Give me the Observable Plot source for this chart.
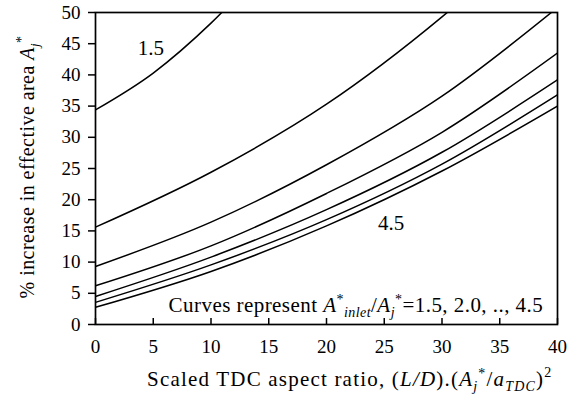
<!DOCTYPE html>
<html>
<head>
<meta charset="utf-8">
<script src="https://cdn.jsdelivr.net/npm/d3@7"></script>
<script src="https://cdn.jsdelivr.net/npm/@observablehq/plot@0.6"></script>
<style>
  html, body { margin: 0; padding: 0; background: #fff; }
  #chart svg { display: block; }
</style>
</head>
<body>
<div id="chart"></div>
<script>
// Inlet area ratios A*_inlet / A_j*
const ratios = ["1.5", "2.0", "2.5", "3.0", "3.5", "4.0", "4.5"];
// Scaled TDC aspect ratio sample points
const xs = [0, 10, 20, 30, 40];
// % increase in effective area, one list per ratio (values above 50 are clipped by the frame)
const r20 = [15.6, 24.4, 35.3, 49.3, 66];
const r25 = [9.3, 16.4, 25.6, 36.6, 50.8];
const r30 = [6.2, 12.6, 21.0, 30.8, 43.5];
const r35 = [4.5, 10.8, 18.4, 27.6, 39.2];
const r40 = [3.55, 9.55, 16.8, 25.7, 36.8];
const r45 = [2.75, 8.5, 15.8, 24.6, 35.0];
// the steep 1.5 curve, read at its own x positions
const r15x = [0, 5, 10, 15];
const r15y = [34.4, 40.3, 48.3, 58];
const series = [null, r20, r25, r30, r35, r40, r45];

const xTicks = [0, 5, 10, 15, 20, 25, 30, 35, 40];
const yTicks = [0, 5, 10, 15, 20, 25, 30, 35, 40, 45, 50];

// curve labels
const curveLabels = [
  {x: 4.8, y: 44.2, text: "1.5"},
  {x: 25.6, y: 16.3, text: "4.5"}
];

const rows = [];
r15x.forEach((x, j) => rows.push({ratio: ratios[0], x, y: r15y[j]}));
series.forEach((vals, i) => {
  if (!vals) return;
  xs.forEach((x, j) => rows.push({ratio: ratios[i], x, y: vals[j]}));
});

const font = "'Liberation Serif', 'Times New Roman', 'DejaVu Serif', serif";

const plot = Plot.plot({
  width: 572,
  height: 394,
  marginLeft: 95,
  marginRight: 15,
  marginTop: 12,
  marginBottom: 70,
  style: {fontSize: "19px", color: "#000", background: "#fff"},
  x: {domain: [0, 40], ticks: xTicks},
  y: {domain: [0, 50], ticks: yTicks},
  marks: [
    Plot.line(rows, {x: "x", y: "y", z: "ratio", stroke: "#000", strokeWidth: 1.5, curve: "monotone-x", clip: true}),
    Plot.frame({stroke: "#000", strokeWidth: 1.7}),
    Plot.axisY(yTicks, {tickSize: 7, tickPadding: 8, label: null, fontSize: 19, strokeWidth: 1.5}),
    Plot.axisX(xTicks, {tickSize: -6, tickPadding: 21, label: null, fontSize: 19, strokeWidth: 1.5}),
    Plot.text(curveLabels, {x: "x", y: "y", text: "text", fontSize: 21, fill: "#000"})
  ]
});

document.getElementById("chart").appendChild(plot);

// Rich-text annotations (super/subscripts) drawn with the plot's scales
const svg = d3.select(plot);
const sx = plot.scale("x"), sy = plot.scale("y");

function rich(g, parts) {
  parts.forEach(p => {
    const t = g.append("tspan").text(p.t);
    if (p.i) t.style("font-style", "italic");
    if (p.dy) t.attr("dy", p.dy);
    if (p.fs) t.style("font-size", p.fs + "px");
  });
}

// legend note inside the plot
const note = svg.append("text")
  .attr("transform", `translate(${sx.apply(38.8)}, ${sy.apply(2.0)})`)
  .attr("text-anchor", "end")
  .style("font-size", "21px")
  .style("letter-spacing", "0.45px")
  .attr("fill", "#000");
rich(note, [
  {t: "Curves represent "},
  {t: "A", i: true},
  {t: "*", dy: -8, fs: 14},
  {t: "inlet", i: true, dy: 13, fs: 14},
  {t: "/", dy: -5},
  {t: "A", i: true},
  {t: "j", i: true, dy: 5, fs: 14},
  {t: "*", dy: -13, fs: 14},
  {t: "=1.5, 2.0, .., 4.5", dy: 8}
]);

// x axis label
const xl = svg.append("text")
  .attr("transform", "translate(147, 386)")
  .attr("text-anchor", "start")
  .style("font-size", "21px")
  .style("letter-spacing", "1.2px")
  .attr("fill", "#000");
rich(xl, [
  {t: "Scaled TDC aspect ratio, ("},
  {t: "L/D", i: true},
  {t: ").("},
  {t: "A", i: true},
  {t: "j", i: true, dy: 5, fs: 14},
  {t: "*", dy: -13, fs: 14},
  {t: "/", dy: 8},
  {t: "a", i: true},
  {t: "TDC", i: true, dy: 5, fs: 14},
  {t: ")", dy: -5},
  {t: "2", dy: -9, fs: 14}
]);

// y axis label
const yl = svg.append("text")
  .attr("transform", "translate(34, 167) rotate(-90)")
  .attr("text-anchor", "middle")
  .style("font-size", "20px")
  .style("letter-spacing", "0.45px")
  .attr("fill", "#000");
rich(yl, [
  {t: "% increase in effective area "},
  {t: "A", i: true},
  {t: "j", i: true, dy: 5, fs: 13},
  {t: "*", dy: -13, fs: 14}
]);

// serif face on every text element, set inline
svg.style("font-family", font);
svg.selectAll("text, tspan").style("font-family", font);
</script>
</body>
</html>
